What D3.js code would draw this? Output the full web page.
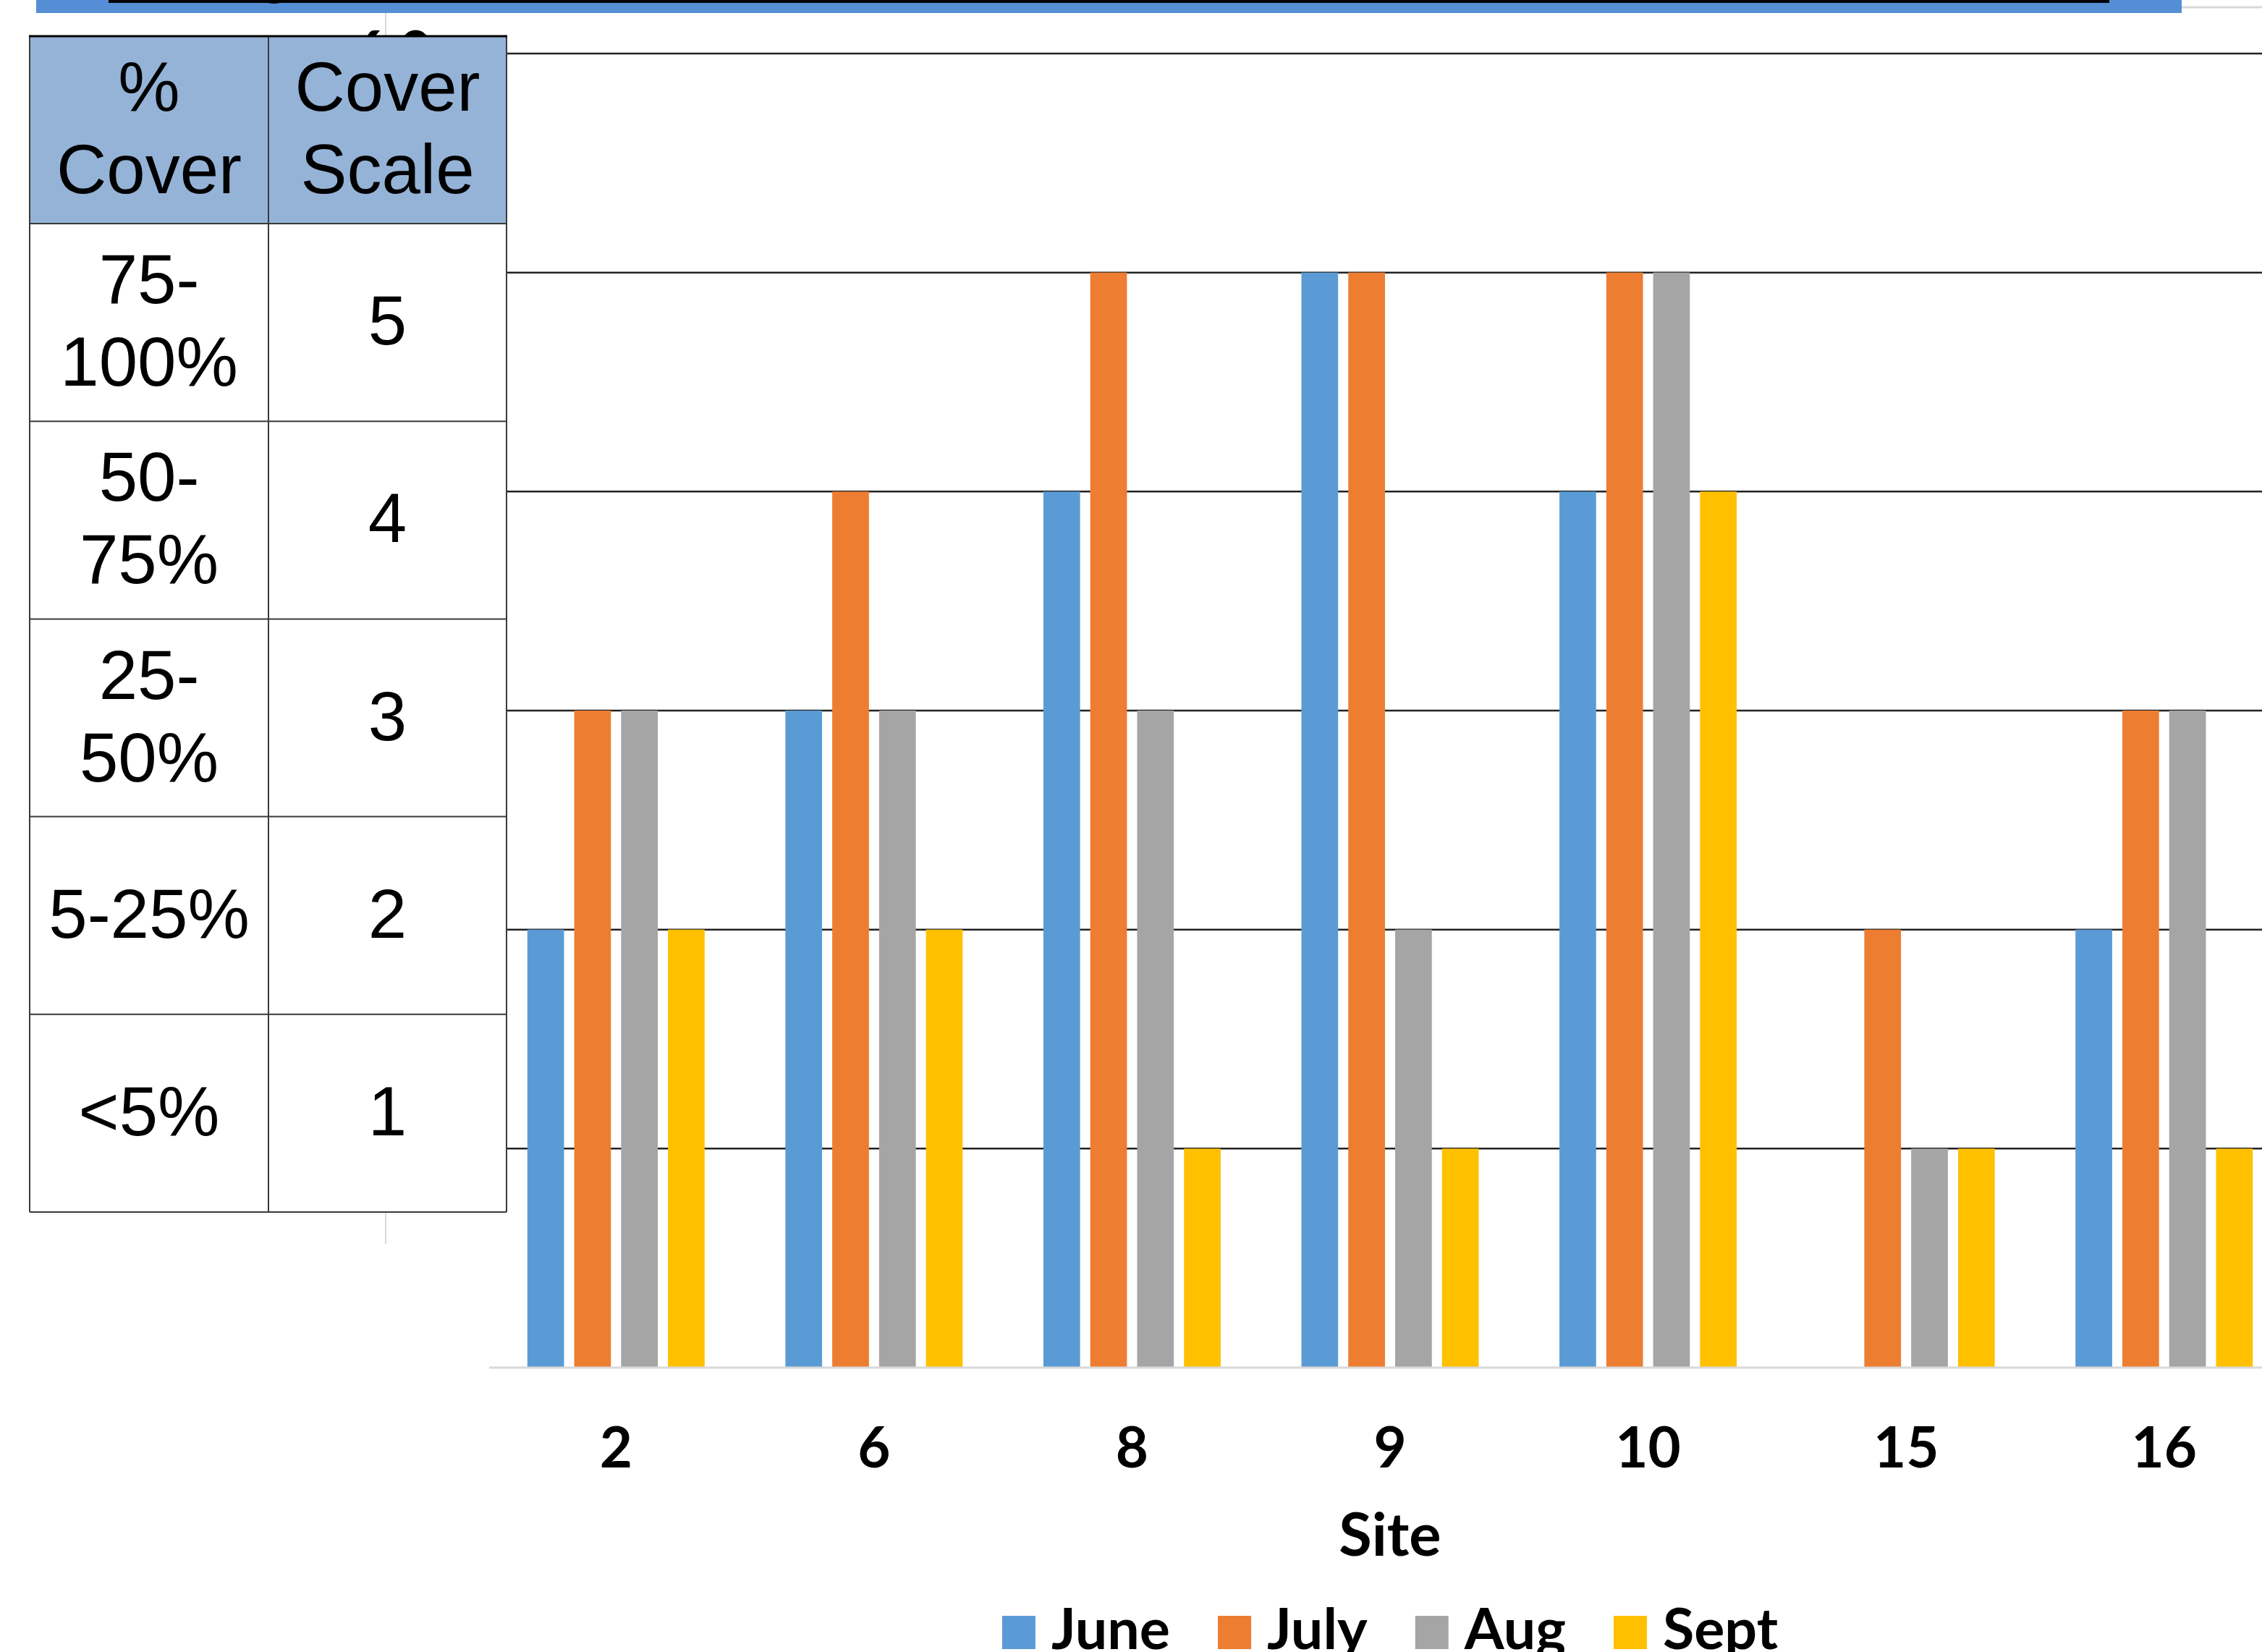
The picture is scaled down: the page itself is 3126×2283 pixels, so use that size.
<!DOCTYPE html>
<html>
<head>
<meta charset="utf-8">
<script src="https://cdn.jsdelivr.net/npm/d3@7"></script>
<style>
  html, body { margin: 0; padding: 0; background: #fff; overflow: hidden; }
  svg { display: block; }
</style>
</head>
<body>
<svg id="chart" width="3126" height="2283"></svg>
<script>
// Cover scale readings per site and month
const sites = ["2", "6", "8", "9", "10", "15", "16"];
const months = ["June", "July", "Aug", "Sept"];
const june = [2, 3, 4, 5, 4, 0, 2];
const july = [3, 4, 5, 5, 5, 2, 3];
const aug  = [3, 3, 3, 2, 5, 1, 3];
const sept = [2, 2, 1, 1, 4, 1, 1];
const monthColors = ["#5B9BD5", "#ED7D31", "#A5A5A5", "#FFC000"];
const yTicks = [0, 1, 2, 3, 4, 5, 6];

// Key table: % cover ranges and the matching cover scale value
const tableHeader = [["%", "Cover"], ["Cover", "Scale"]];
const coverPercent = [["75-", "100%"], ["50-", "75%"], ["25-", "50%"], ["5-25%"], ["<5%"]];
const coverScale = ["5", "4", "3", "2", "1"];

const seriesValues = [june, july, aug, sept];
const svg = d3.select("#chart");
const W = 3126;

// ---- banner strip along the top ----
svg.append("rect").attr("x", 50).attr("y", 0).attr("width", 2965).attr("height", 18).attr("fill", "#558ED5");
svg.append("rect").attr("x", 150).attr("y", 0).attr("width", 2765).attr("height", 4).attr("fill", "#000");
svg.append("text").attr("x", 380).attr("y", -12).attr("text-anchor", "middle")
  .attr("font-family", "Lato").attr("font-weight", 700).attr("font-size", 90).attr("fill", "#000").text("g");
svg.append("line").attr("x1", 3015).attr("x2", W).attr("y1", 10).attr("y2", 10)
  .attr("stroke", "#d9d9d9").attr("stroke-width", 3);

// ---- scales ----
const x = d3.scaleBand().domain(sites).range([673, 3169]).paddingInner(0).paddingOuter(0);
const xm = d3.scaleBand().domain(months).range([-122.5, 122.5]).paddingInner(0.217).paddingOuter(0);
const y = d3.scaleLinear().domain([0, 6]).range([1890, 74]);

// faint vertical guide left of the plot
svg.append("line").attr("x1", 533).attr("x2", 533).attr("y1", 18).attr("y2", 1719)
  .attr("stroke", "#d9d9d9").attr("stroke-width", 2);

// ---- gridlines ----
svg.append("g").selectAll("line").data(yTicks.filter(d => d > 0)).join("line")
  .attr("x1", 676).attr("x2", W)
  .attr("y1", d => y(d)).attr("y2", d => y(d))
  .attr("stroke", "#222").attr("stroke-width", 2.5);

// top value label of the vertical axis
const yAxis = d3.axisLeft(y).tickValues([d3.max(yTicks)]).tickSize(0).tickPadding(0);
const yg = svg.append("g").attr("transform", "translate(597,0)").call(yAxis);
yg.select(".domain").remove();
yg.selectAll("text").attr("font-family", "Lato").attr("font-weight", 700)
  .attr("font-size", 78).attr("fill", "#000").attr("dy", "0.32em");

// ---- bars ----
const groups = svg.append("g").selectAll("g").data(sites).join("g")
  .attr("transform", d => `translate(${x(d) + x.bandwidth() / 2},0)`);
groups.selectAll("rect")
  .data((s, i) => months.map((m, k) => ({ m, k, v: seriesValues[k][i] })))
  .join("rect")
  .attr("x", d => xm(d.m))
  .attr("width", xm.bandwidth())
  .attr("y", d => y(d.v))
  .attr("height", d => y(0) - y(d.v))
  .attr("fill", d => monthColors[d.k]);

// baseline
svg.append("line").attr("x1", 676).attr("x2", W).attr("y1", y(0)).attr("y2", y(0))
  .attr("stroke", "#d9d9d9").attr("stroke-width", 3);

// ---- category axis ----
const xAxis = d3.axisBottom(x).tickSize(0).tickPadding(0);
const xg = svg.append("g").attr("transform", `translate(0,${y(0)})`).call(xAxis);
xg.select(".domain").remove();
xg.selectAll("text").attr("font-family", "Lato").attr("font-weight", 700)
  .attr("font-size", 78).attr("fill", "#000").attr("y", 138).attr("dy", 0);

const plotCenter = (x.range()[0] + x.range()[1]) / 2;
svg.append("text").attr("x", plotCenter).attr("y", 2150).attr("text-anchor", "middle")
  .attr("font-family", "Lato").attr("font-weight", 700).attr("font-size", 83)
  .attr("fill", "#000").text("Site");

// ---- legend ----
const legend = svg.append("g");
const items = legend.selectAll("g").data(months).join("g");
items.append("rect").attr("width", 46).attr("height", 46).attr("y", 2233)
  .attr("fill", (d, i) => monthColors[i]);
items.append("text").attr("x", 68).attr("y", 2279)
  .attr("font-family", "Lato").attr("font-weight", 700).attr("font-size", 79)
  .attr("fill", "#000").text(d => d);
let cursor = 0;
const offsets = [];
items.each(function () {
  const tw = d3.select(this).select("text").node().getComputedTextLength();
  offsets.push(cursor);
  cursor += 68 + tw + 66;
});
const legendWidth = cursor - 66;
const legendStart = plotCenter - legendWidth / 2;
items.attr("transform", (d, i) => `translate(${legendStart + offsets[i]},0)`);

// ---- key table ----
const tx = [41, 371, 700];
const headerTop = 50, headerBottom = 309, rowH = 273.2;
const table = svg.append("g");
const cellFont = { family: "Liberation Sans, Arial, sans-serif", size: 96, lh: 114, cap: 69 };

function cellText(cx, cy, lines) {
  const block = cellFont.cap + (lines.length - 1) * cellFont.lh;
  const first = cy - block / 2 + cellFont.cap;
  const t = table.append("text").attr("text-anchor", "middle")
    .attr("font-family", cellFont.family).attr("font-size", cellFont.size).attr("fill", "#000");
  lines.forEach((ln, i) => {
    t.append("tspan").attr("x", cx).attr("y", first + i * cellFont.lh).text(ln);
  });
}

// header row
table.append("rect").attr("x", tx[0]).attr("y", headerTop).attr("width", tx[2] - tx[0])
  .attr("height", headerBottom - headerTop).attr("fill", "#95B3D7");
// body rows
table.append("rect").attr("x", tx[0]).attr("y", headerBottom).attr("width", tx[2] - tx[0])
  .attr("height", rowH * coverScale.length).attr("fill", "#fff");

tableHeader.forEach((lines, c) => cellText((tx[c] + tx[c + 1]) / 2, (headerTop + headerBottom) / 2 - 4, lines));
coverPercent.forEach((lines, r) => {
  const cy = headerBottom + rowH * (r + 0.5) - 4;
  cellText((tx[0] + tx[1]) / 2, cy, lines);
  cellText((tx[1] + tx[2]) / 2, cy, [coverScale[r]]);
});

// cell borders
const rowLines = d3.range(coverScale.length + 1).map(i => headerBottom + i * rowH);
table.selectAll("line.h").data(rowLines).join("line").attr("class", "h")
  .attr("x1", tx[0]).attr("x2", tx[2]).attr("y1", d => d).attr("y2", d => d)
  .attr("stroke", "#3a3a3a").attr("stroke-width", 2);
table.selectAll("line.v").data(tx).join("line").attr("class", "v")
  .attr("x1", d => d).attr("x2", d => d)
  .attr("y1", headerTop).attr("y2", rowLines[rowLines.length - 1])
  .attr("stroke", "#3a3a3a").attr("stroke-width", 2);
table.append("line").attr("x1", tx[0] - 1).attr("x2", tx[2] + 1).attr("y1", headerTop).attr("y2", headerTop)
  .attr("stroke", "#000").attr("stroke-width", 3);
</script>
</body>
</html>
